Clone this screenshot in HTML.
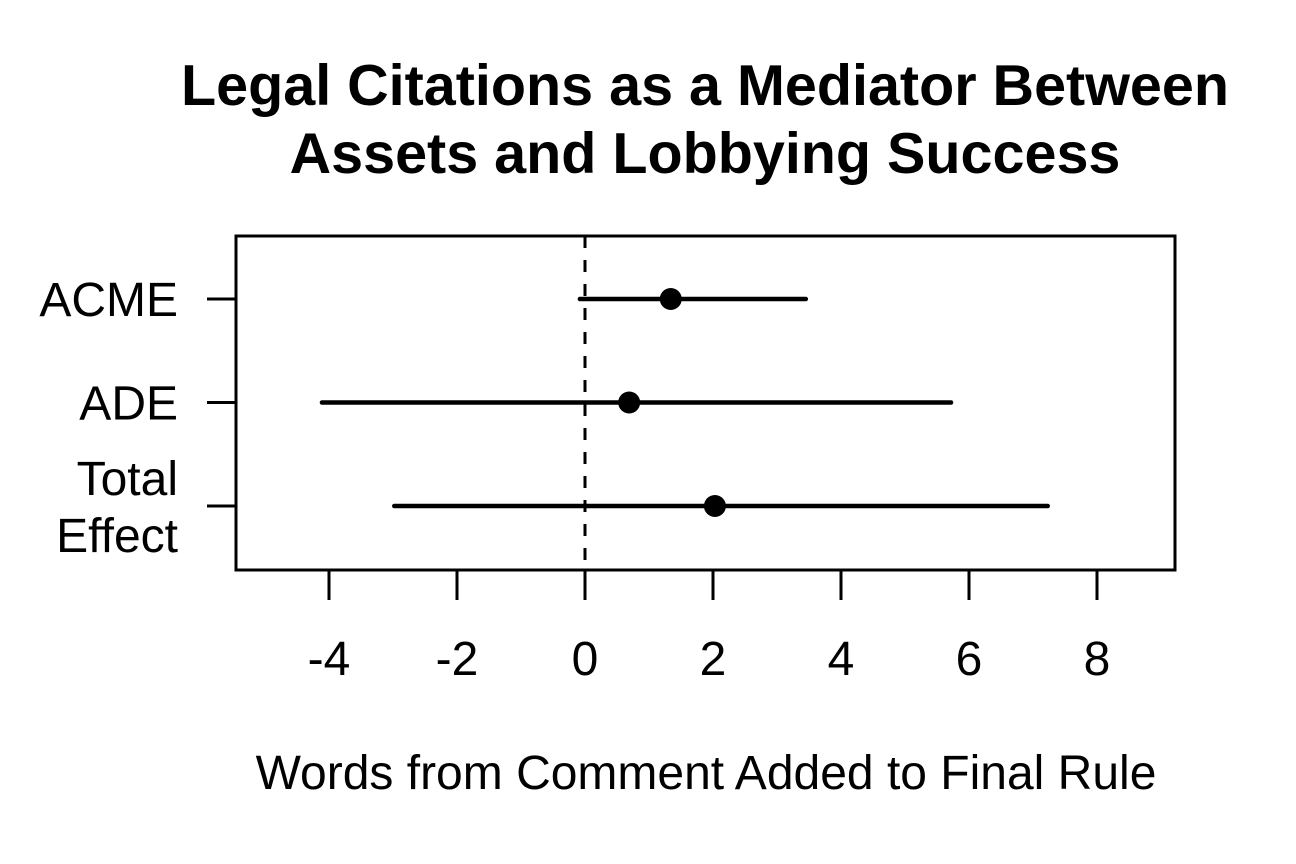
<!DOCTYPE html>
<html><head><meta charset="utf-8"><style>
html,body{margin:0;padding:0;background:#fff}
svg{display:block;font-family:"Liberation Sans",Arial,sans-serif}
</style></head><body>
<svg id="chart" width="1296" height="864" viewBox="0 0 1296 864" xmlns="http://www.w3.org/2000/svg">
<text x="705" y="105" font-size="57.5" font-weight="bold" text-anchor="middle">Legal Citations as a Mediator Between</text>
<text x="705" y="173" font-size="57.5" font-weight="bold" text-anchor="middle">Assets and Lobbying Success</text>
<rect x="236" y="236" width="939" height="334" fill="none" stroke="#000" stroke-width="3"/>
<g id="xaxis"></g>
<g id="yaxis"></g>
<g id="marks"></g>
<text x="706" y="789" font-size="48" text-anchor="middle">Words from Comment Added to Final Rule</text>
</svg>
<script>
const categories = ["ACME", "ADE", "Total Effect"];
const estimates = [1.34, 0.69, 2.03];
const lowerCI = [-0.08, -4.11, -2.98];
const upperCI = [3.45, 5.72, 7.23];
const xTicks = [-4, -2, 0, 2, 4, 6, 8];
const xTickLabels = ["-4", "-2", "0", "2", "4", "6", "8"];

const NS = "http://www.w3.org/2000/svg";
function x(v){ return 585 + v * 64; }
function y(i){ return 299 + i * 103.5; }
function mk(tag, attrs, parent){ const e=document.createElementNS(NS,tag); for(const k in attrs) e.setAttribute(k,attrs[k]); parent.appendChild(e); return e; }

const xa=document.getElementById('xaxis'), ya=document.getElementById('yaxis'), m=document.getElementById('marks');
xTicks.forEach((t,i)=>{
  const l=mk('line',{x1:x(t),x2:x(t),y1:570,y2:600,stroke:'#000','stroke-width':3},xa);
  
  
  const tx=mk('text',{x:x(t),y:675,'font-size':48,'text-anchor':'middle'},xa);
  tx.textContent=xTickLabels[i];
  
  
});
categories.forEach((c,i)=>{
  const l=mk('line',{x1:207,x2:236,y1:y(i),y2:y(i),stroke:'#000','stroke-width':3},ya);
  
  
  const words=c.split(' ');
  const tx=mk('text',{x:178,'font-size':48,'text-anchor':'end'},ya);
  
  
  if(words.length===1){ tx.setAttribute('y',y(i)+17); tx.textContent=c; }
  else { words.forEach((w,j)=>{ const ts=mk('tspan',{x:178,y:y(i)-11+j*57},tx); ts.textContent=w; }); }
});
const ref=mk('line',{x1:x(0),x2:x(0),y1:236,y2:570,stroke:'#000','stroke-width':3,'stroke-dasharray':'12,12'},m);


categories.forEach((c,i)=>{
  const l=mk('line',{x1:x(lowerCI[i]),x2:x(upperCI[i]),y1:y(i),y2:y(i),stroke:'#000','stroke-width':4.5,'stroke-linecap':'round'},m);
  
  
  const p=mk('circle',{cx:x(estimates[i]),cy:y(i),r:11,fill:'#000'},m);
  
  
});
</script>
</body></html>
